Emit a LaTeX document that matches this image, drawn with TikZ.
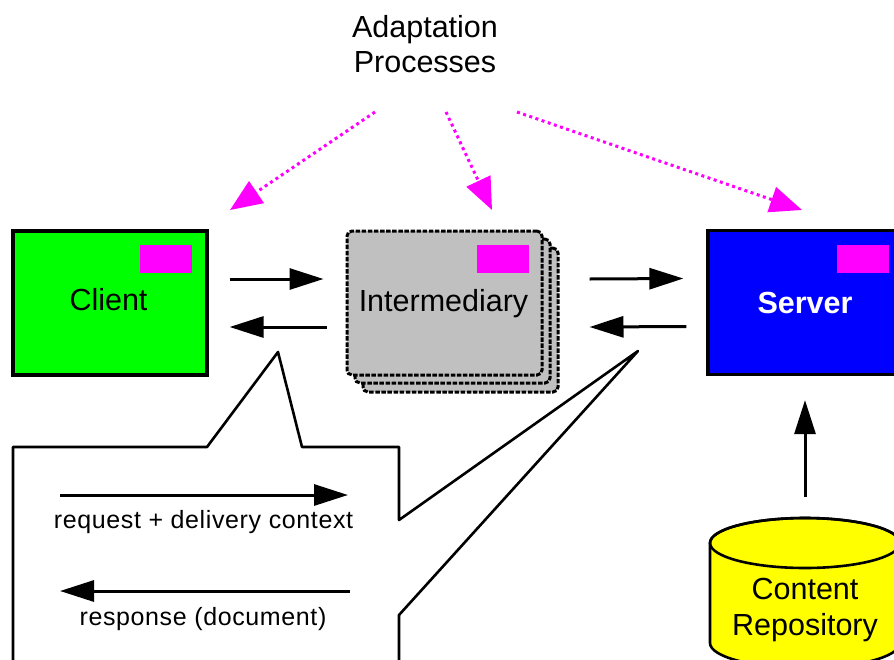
\documentclass[tikz,border=0pt]{standalone}
\usepackage{fontspec}
\setmainfont{Liberation Sans}
\usetikzlibrary{arrows.meta}

\definecolor{clientgreen}{RGB}{0,255,0}
\definecolor{serverblue}{RGB}{0,0,255}
\definecolor{adaptmagenta}{RGB}{255,0,255}
\definecolor{intergray}{RGB}{192,192,192}
\definecolor{repoyellow}{RGB}{255,255,0}

\begin{document}
\begin{tikzpicture}[x=1pt,y=-1pt,
  bigtext/.style={font=\fontsize{30.5}{35}\selectfont, inner sep=0pt, anchor=base},
  smalltext/.style={font=\fontsize{25}{30}\selectfont\addfontfeature{LetterSpace=2.5}, inner sep=0pt, anchor=base},
  hostbox/.style={draw=black, line width=3.2pt, minimum width=194pt, minimum height=144pt, inner sep=0pt},
  interbox/.style={draw=black, fill=intergray, line width=3pt, dash pattern=on 4.5pt off 1.6pt,
                   rounded corners=5pt, minimum width=195pt, minimum height=144pt, inner sep=0pt},
  tag/.style={fill=adaptmagenta, minimum width=52pt, minimum height=28pt, inner sep=0pt},
  flow/.style={line width=3pt, -{Triangle[length=34pt,width=21pt]}},
  adapt/.style={adaptmagenta, line width=3pt, dash pattern=on 3pt off 3.5pt,
                -{Triangle[length=32pt,width=26pt]}},
  outline/.style={draw=black, line width=2.6pt, line join=round}
]
\clip (0,0) rectangle (894,659);
\fill[white] (0,0) rectangle (894,659);

% title
\node[bigtext] (title1) at (425,37) {Adaptation};
\node[bigtext] (title2) at (425,72) {Processes};

% adaptation arrows
\coordinate (adaptL) at (375,112);
\coordinate (adaptM) at (446,112);
\coordinate (adaptR) at (517,112);
\coordinate (tipC) at (230,210);
\coordinate (tipI) at (492,210);
\coordinate (tipS) at (802,210);
\draw[adapt] (adaptL) -- (tipC);
\draw[adapt] (adaptM) -- (tipI);
\draw[adapt] (adaptR) -- (tipS);

% client
\node[hostbox, fill=clientgreen] (client) at (110,303) {};
\node[tag] (clienttag) at (166,259) {};
\node[bigtext] (clientlabel) at (108.5,310) {Client};

% intermediary (stacked)
\node[interbox] (inter3) at (460.5,320) {};
\node[interbox] (inter2) at (452.5,311) {};
\node[interbox] (inter) at (444.5,303) {};
\node[tag] (intertag) at (502.5,259) {};
\node[bigtext] (interlabel) at (443.5,311) {Intermediary};

% server
\node[hostbox, fill=serverblue] (server) at (805,302.5) {};
\node[tag] (servertag) at (863,259) {};
\node[bigtext, text=white, font=\fontsize{30.5}{35}\selectfont\bfseries] (serverlabel) at (805,313) {Server};

% message arrows
\draw[flow] ([shift={(21,-24)}]client.east) -- ([shift={(-22,-24)}]inter.west);
\draw[flow] ([shift={(-19,24)}]inter.west) -- ([shift={(21,24)}]client.east);
\draw[flow] ([shift={(46,-24)}]inter.east) -- ([shift={(-23,-24)}]server.west);
\draw[flow] ([shift={(-20,24)}]server.west) -- ([shift={(46,24)}]inter.east);

% content repository
\filldraw[outline, fill=repoyellow] (710,543) -- (710,643)
  arc[start angle=180, end angle=360, x radius=95pt, y radius=25pt] -- (900,543)
  arc[start angle=0, end angle=180, x radius=95pt, y radius=25pt] -- cycle;
\draw[outline] (805,543) ellipse[x radius=95pt, y radius=25pt];
\node[bigtext] (repo1) at (805,599) {Content};
\node[bigtext] (repo2) at (805,635) {Repository};
\coordinate (repotop) at (805,497);
\draw[flow] (repotop) -- ([shift={(0,24)}]server.south);

% callout explaining the arrows
\filldraw[outline, fill=white] (13,690) -- (13,447) -- (207,447) -- (278,352) -- (302,447)
  -- (399,447) -- (399,520) -- (638,351) -- (399,615) -- (399,690) -- cycle;
\coordinate (reqA) at (60,495);
\coordinate (reqB) at (348,495);
\draw[flow] (reqA) -- (reqB);
\node[smalltext] (reqlabel) at (203.5,528) {request + delivery context};
\coordinate (respA) at (350,591);
\coordinate (respB) at (60,591);
\draw[flow] (respA) -- (respB);
\node[smalltext] (resplabel) at (203,625) {response (document)};
\end{tikzpicture}
\end{document}
